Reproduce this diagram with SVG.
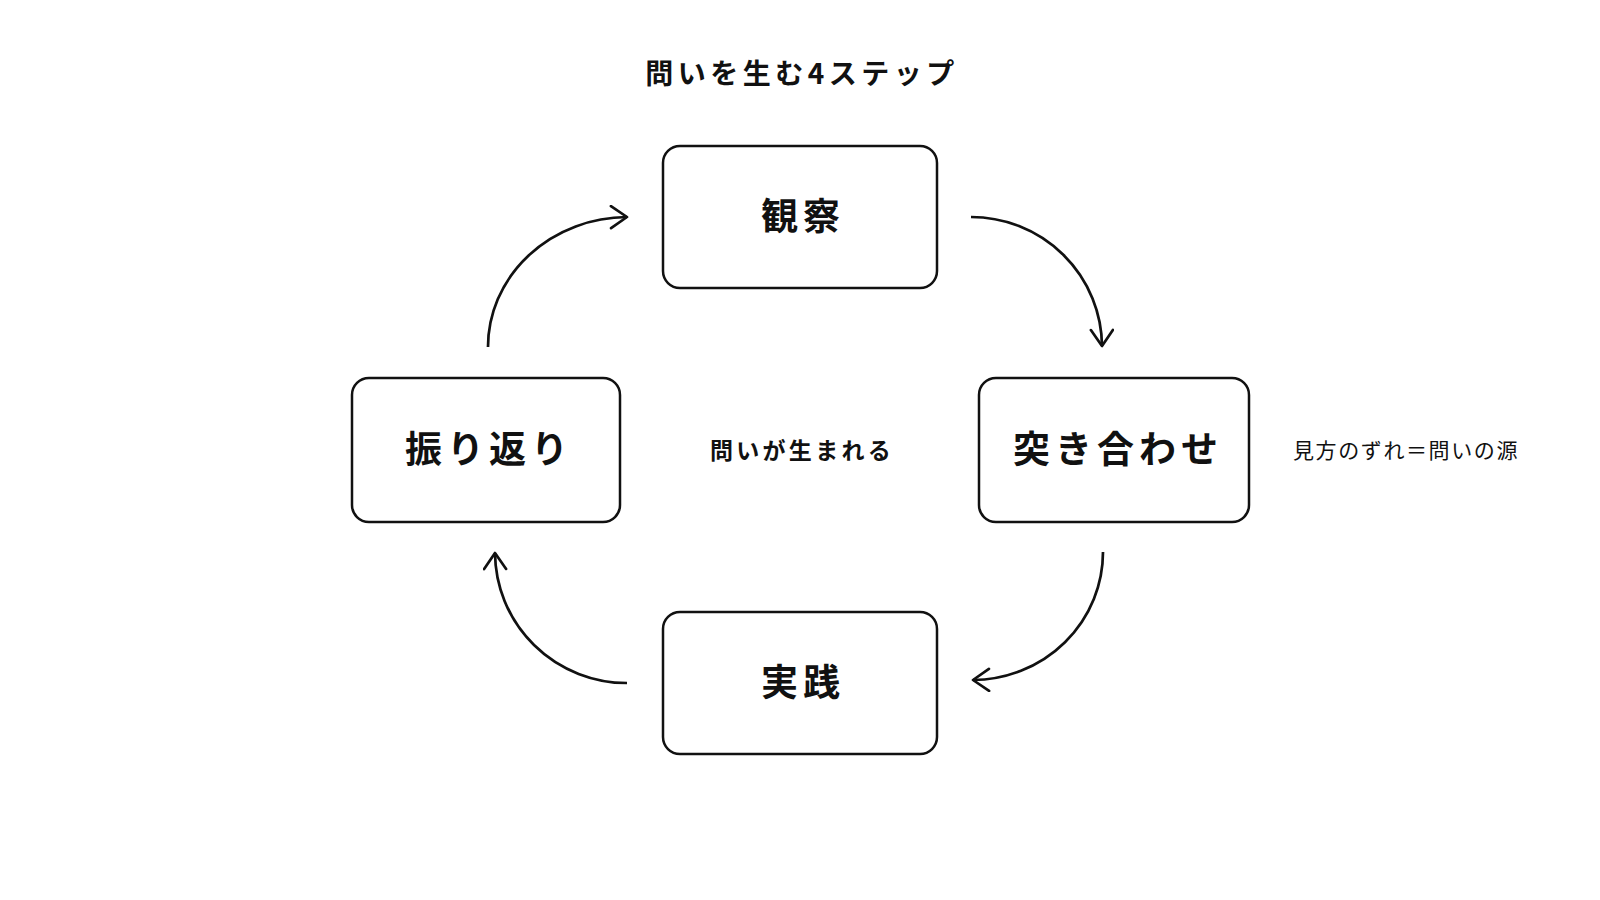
<svg xmlns="http://www.w3.org/2000/svg" width="1600" height="900" viewBox="0 0 1600 900">
<style>
.box{fill:#fff;stroke:#111;stroke-width:2.5}
.lbl{font-family:"Noto Sans CJK JP","Noto Sans",sans-serif;font-weight:700;font-size:37px;fill:#111;text-anchor:middle;letter-spacing:5px}
.title{font-family:"Noto Sans CJK JP","Noto Sans",sans-serif;font-weight:700;font-size:28px;fill:#111;text-anchor:middle;letter-spacing:4.5px}
.mid{font-family:"Noto Sans CJK JP","Noto Sans",sans-serif;font-weight:700;font-size:23px;fill:#111;text-anchor:middle;letter-spacing:3.3px}
.note{font-family:"Noto Sans CJK JP","Noto Sans",sans-serif;font-weight:400;font-size:21px;fill:#111;text-anchor:middle;letter-spacing:1.6px}
.arr{fill:none;stroke:#111;stroke-width:2.7;marker-end:url(#head)}
</style>
<defs>
<marker id="head" markerUnits="userSpaceOnUse" markerWidth="30" markerHeight="30" refX="20" refY="12" orient="auto">
<path d="M4,1 L20,12 L4,23" fill="none" stroke="#111" stroke-width="2.7" stroke-linecap="round" stroke-linejoin="round"/>
</marker>
</defs>
<rect width="1600" height="900" fill="#fff"/>
<text class="title" x="802" y="84">問いを生む4ステップ</text>
<g id="connectors">
<path class="arr" d="M971,217 A131,130 0 0 1 1102,346"/>
<path class="arr" d="M1103,552 A131,128 0 0 1 973,680"/>
<path class="arr" d="M627,683 A132,131 0 0 1 495,553"/>
<path class="arr" d="M488,347 A140,130 0 0 1 627,217"/>
</g>
<g id="node-observe">
<rect class="box" x="663" y="146" width="274" height="142" rx="17"/>
<text class="lbl" x="803" y="230">観察</text>
</g>
<g id="node-compare">
<rect class="box" x="979" y="378" width="270" height="144" rx="17"/>
<text class="lbl" x="1118" y="463">突き合わせ</text>
</g>
<g id="node-practice">
<rect class="box" x="663" y="612" width="274" height="142" rx="17"/>
<text class="lbl" x="803" y="696">実践</text>
</g>
<g id="node-reflect">
<rect class="box" x="352" y="378" width="268" height="144" rx="17"/>
<text class="lbl" x="489" y="463">振り返り</text>
</g>
<text class="mid" x="802" y="459">問いが生まれる</text>
<text class="note" x="1406" y="458">見方のずれ＝問いの源</text>
</svg>
